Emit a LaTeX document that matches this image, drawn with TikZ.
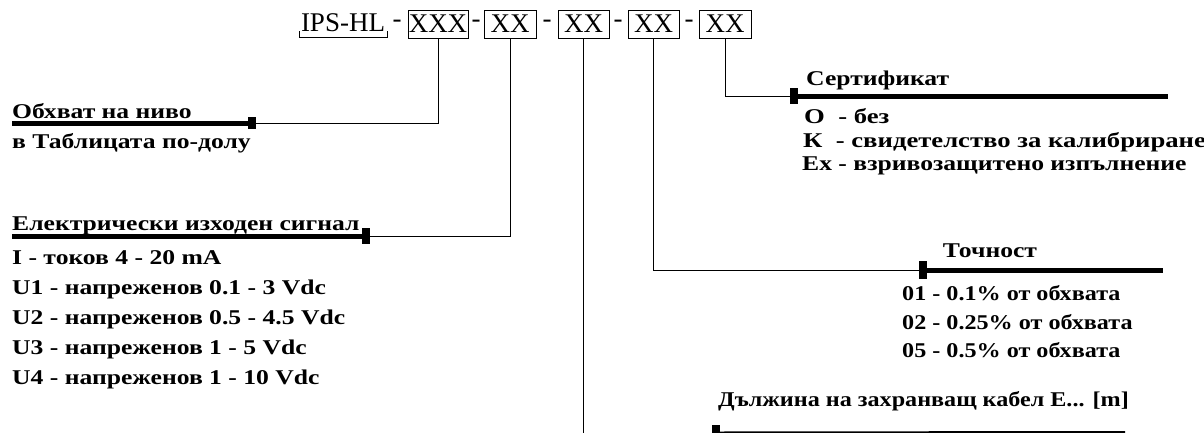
\documentclass[tikz,border=0pt]{standalone}
\usepackage{fontspec}
\setmainfont{Liberation Serif}
\newfontfamily\bodyf{Liberation Serif}[FakeStretch=1.22]
\newfontfamily\bodyn{Liberation Serif}[FakeStretch=1.15]
\newfontfamily\bodyw{Liberation Serif}[FakeStretch=1.27]
\begin{document}
\begin{tikzpicture}[x=1pt,y=-1pt,
  lbl/.style={anchor=base west, inner sep=0pt, font=\bodyf\bfseries\fontsize{21}{21}\selectfont},
  lbln/.style={anchor=base west, inner sep=0pt, font=\bodyn\bfseries\fontsize{21}{21}\selectfont},
  lblw/.style={anchor=base west, inner sep=0pt, font=\bodyw\bfseries\fontsize{21}{21}\selectfont},
  codebox/.style={draw, line width=1pt, minimum height=28, inner sep=0pt, font=\fontsize{27}{27}\selectfont},
  hdr/.style={inner sep=0pt, font=\fontsize{27}{27}\selectfont},
  conn/.style={line width=1pt},
  bar/.style={line width=5pt},
  marker/.style={fill=black, inner sep=0pt, minimum width=8, minimum height=16}]
\fill[white] (0,0) rectangle (1204,432);
\useasboundingbox (0,0) rectangle (1204,432);
\clip (0,0) rectangle (1204,432);
% header
\node[hdr] (ips) at (343,23) {IPS-HL};
\draw[conn] (299,31) |- (387,37) -- (387,31);
\node[hdr] (d0) at (397,24) {-};
\node[codebox, minimum width=60] (b1) at (438,24) {XXX};
\node[hdr] (d1) at (476,24) {-};
\node[codebox, minimum width=52] (b2) at (510,24) {XX};
\node[hdr] (d2) at (547,24) {-};
\node[codebox, minimum width=51] (b3) at (583.5,24) {XX};
\node[hdr] (d3) at (618,24) {-};
\node[codebox, minimum width=51] (b4) at (653.5,24) {XX};
\node[hdr] (d4) at (689,24) {-};
\node[codebox, minimum width=52] (b5) at (725,24) {XX};
% markers
\node[marker, minimum height=12] (m1) at (252,123) {};
\node[marker] (m2) at (366,236) {};
\node[marker, minimum height=18] (m3) at (716,434) {};
\node[marker, minimum height=18] (m4) at (923,270) {};
\node[marker] (m5) at (794,96) {};
% bar ends
\coordinate (e1) at (12,123);
\coordinate (e2) at (12,236);
\coordinate (e3) at (1125,433.5);
\coordinate (e4) at (1163,270);
\coordinate (e5) at (1168,96);
\draw[bar] (m1.center) -- (e1);
\draw[bar] (m2.center) -- (e2);
\draw[bar] (m3.center) -- (e3);
\draw[bar] (m4.center) -- (e4);
\draw[bar] (m5.center) -- (e5);
% connectors
\draw[conn] (b1.south) |- (m1.east);
\draw[conn] (b2.south) |- (m2.east);
\draw[conn] (b3.south) |- (m3.west);
\draw[conn] (b4.south) |- (m4.west);
\draw[conn] (b5.south) |- (m5.west);
% group 1
\node[lbl] (t1) at (12,118) {Обхват на ниво};
\node[lbl] (t1a) at (12,148) {в Таблицата по-долу};
% group 2
\node[lbl] (t2) at (12,230) {Електрически изходен сигнал};
\node[lbl] (t2a) at (12,264) {I - токов 4 - 20 mA};
\node[lbl] (t2b) at (12,294) {U1 - напреженов 0.1 - 3 Vdc};
\node[lbl] (t2c) at (12,324) {U2 - напреженов 0.5 - 4.5 Vdc};
\node[lbl] (t2d) at (12,354) {U3 - напреженов 1 - 5 Vdc};
\node[lbl] (t2e) at (12,384) {U4 - напреженов 1 - 10 Vdc};
% group 5
\node[lbl] (t5) at (806,85) {Сертификат};
\node[lblw] (t5a) at (804,123) {О~ - без};
\node[lblw] (t5b) at (803,147) {К~ - свидетелство за калибриране};
\node[lbl] (t5c) at (802,170) {Ex - взривозащитено изпълнение};
% group 4
\node[lbl, anchor=base] (t4) at (990,257) {Точност};
\node[lbln] (t4a) at (902,300) {01 - 0.1\% от обхвата};
\node[lbln] (t4b) at (902,329) {02 - 0.25\% от обхвата};
\node[lbln] (t4c) at (902,357) {05 - 0.5\% от обхвата};
% group 3
\node[lbln] (t3) at (718,406) {Дължина на захранващ кабел E... [m]};
\end{tikzpicture}
\end{document}
